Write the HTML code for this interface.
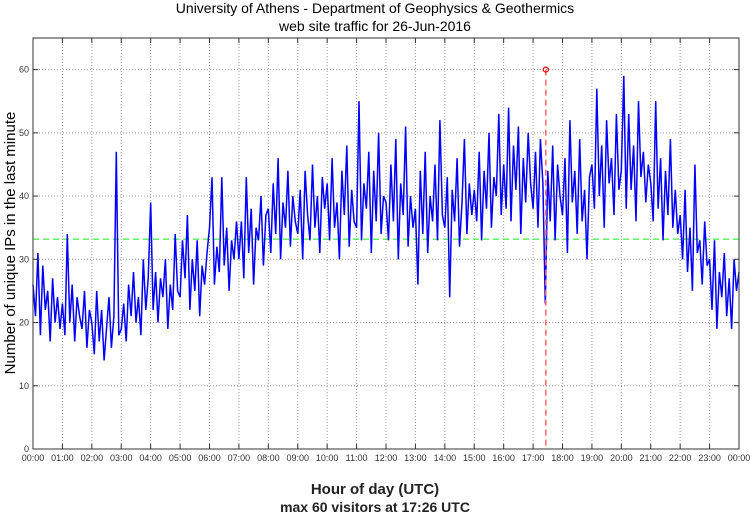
<!DOCTYPE html>
<html><head><meta charset="utf-8"><style>
html,body{margin:0;padding:0;background:#fff;}
svg{display:block;font-family:"Liberation Sans",sans-serif;}
</style></head><body>
<svg id="chart" width="750" height="515">
<text x="375" y="13" text-anchor="middle" font-size="14">University of Athens - Department of Geophysics &amp; Geothermics</text>
<text x="375" y="31" text-anchor="middle" font-size="14">web site traffic for 26-Jun-2016</text>
<text transform="translate(15,243) rotate(-90)" text-anchor="middle" font-size="15">Number of unique IPs in the last minute</text>
<text x="375" y="494" text-anchor="middle" font-size="15" font-weight="bold" fill="#222">Hour of day (UTC)</text>
<text x="375" y="512" text-anchor="middle" font-size="14" font-weight="bold" fill="#222">max 60 visitors at 17:26 UTC</text>
<g id="grid"></g><g id="series"></g><g id="axes"></g>
</svg>
<script>
const hourLabels=["00:00","01:00","02:00","03:00","04:00","05:00","06:00","07:00","08:00","09:00","10:00","11:00","12:00","13:00","14:00","15:00","16:00","17:00","18:00","19:00","20:00","21:00","22:00","23:00","00:00"];
const yTicks=[0,10,20,30,40,50,60];
const visitors=[
26,21,31,18,29,22,25,17,27,20,24,19,
23,18,34,20,26,17,24,21,19,25,16,22,
20,15,25,17,22,14,19,24,16,21,47,18,
19,23,17,26,21,28,20,24,18,30,22,27,
39,22,28,20,27,24,30,19,26,22,34,25,
24,33,27,37,22,30,25,33,21,29,26,31,
35,43,26,32,28,43,29,35,25,33,30,36,
30,36,27,43,31,38,26,35,33,40,29,37,
38,31,42,34,46,30,39,35,44,32,40,36,
34,41,30,44,37,33,45,35,40,31,43,38,
42,33,46,35,39,30,44,37,48,32,41,36,
35,55,33,42,38,47,31,44,36,50,34,40,
39,33,45,36,49,30,42,37,51,32,40,35,
38,26,44,34,47,31,40,36,45,33,52,37,
35,43,24,41,36,46,32,39,49,34,42,37,
41,36,47,33,44,38,50,35,43,40,53,37,
45,38,54,36,48,41,51,34,46,39,50,42,
38,47,35,49,42,23,44,36,48,33,45,40,
37,46,31,52,39,44,34,49,36,41,30,43,
45,38,57,40,48,35,52,42,46,37,53,41,
44,59,38,53,41,48,36,55,43,47,39,45,
42,36,55,38,46,33,44,37,49,35,41,34,
37,30,41,28,35,25,45,31,33,26,36,29,
30,22,33,19,28,24,31,21,27,19,30,25,28];
const stepMinutes=[5];
const meanValue=[33.2];
const maxValue=[60];
const maxMinute=[17*60+26];

const NS="http://www.w3.org/2000/svg";
const L=33,R=739,T=38,B=449,YMAX=65;
function xs(min){return L+min/1440*(R-L);}
function ys(v){return B-v/YMAX*(B-T);}
function mk(tag,attrs,parent){const e=document.createElementNS(NS,tag);for(const k in attrs)e.setAttribute(k,attrs[k]);parent.appendChild(e);return e;}
const grid=document.getElementById('grid'),series=document.getElementById('series'),axes=document.getElementById('axes');
mk('rect',{x:L,y:T,width:R-L,height:B-T,fill:'#fff'},grid);
hourLabels.forEach((lab,i)=>{
  const x=xs(i*60);
  if(i>0&&i<24){const g=mk('line',{x1:x,y1:T,x2:x,y2:B,stroke:'#999','stroke-dasharray':'1,2','stroke-width':1},grid);
  
  }
  mk('line',{x1:x,y1:B,x2:x,y2:B-5,stroke:'#333'},axes);
  mk('line',{x1:x,y1:T,x2:x,y2:T+5,stroke:'#333'},axes);
  const t=mk('text',{x:x,y:B+12,'text-anchor':'middle','font-size':9,fill:'#333'},axes);
  t.textContent=lab;
  
  
});
yTicks.forEach(v=>{
  const y=ys(v);
  if(v>0){const g=mk('line',{x1:L,y1:y,x2:R,y2:y,stroke:'#999','stroke-dasharray':'1,2','stroke-width':1},grid);
  
  }
  mk('line',{x1:L,y1:y,x2:L+5,y2:y,stroke:'#333'},axes);
  mk('line',{x1:R,y1:y,x2:R-5,y2:y,stroke:'#333'},axes);
  const t=mk('text',{x:L-4,y:y+3,'text-anchor':'end','font-size':9,fill:'#333'},axes);
  t.textContent=v;
  
  
});
const mean=mk('line',{x1:L,y1:ys(meanValue[0]),x2:R,y2:ys(meanValue[0]),stroke:'#11ee11','stroke-dasharray':'6,4','stroke-width':1},series);


let d='';
visitors.forEach((v,i)=>{d+=(i?'L':'M')+xs(i*stepMinutes[0]).toFixed(1)+','+ys(v).toFixed(1);});
const p=mk('path',{d:d,fill:'none',stroke:'#0000ff','stroke-width':1.5,'stroke-linejoin':'miter'},series);


const mx=xs(maxMinute[0]);
const ml=mk('line',{x1:mx,y1:ys(maxValue[0]),x2:mx,y2:B,stroke:'#ff6666','stroke-dasharray':'6,4','stroke-width':1.5},series);


const mc=mk('circle',{cx:mx,cy:ys(maxValue[0]),r:2.5,fill:'none',stroke:'#ee0000','stroke-width':1.2},series);


const frame=mk('rect',{x:L,y:T,width:R-L,height:B-T,fill:'none',stroke:'#333','stroke-width':1},axes);


</script>
</body></html>
